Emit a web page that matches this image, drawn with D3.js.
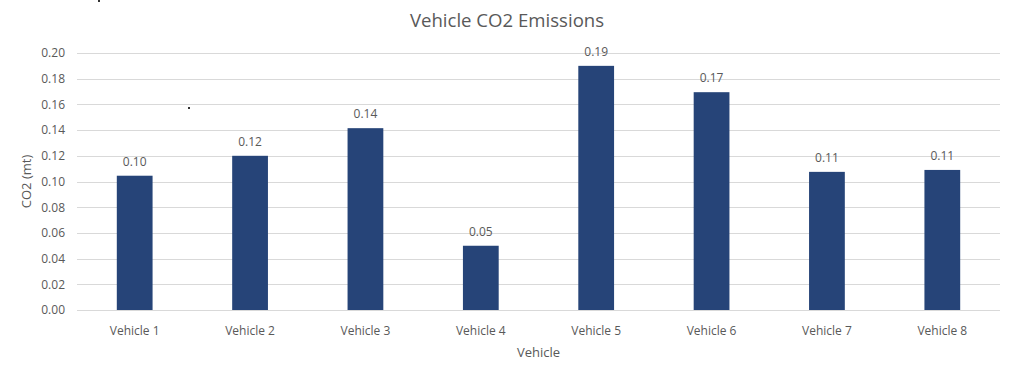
<!DOCTYPE html>
<html lang="en">
<head>
<meta charset="UTF-8">
<title>Vehicle CO2 Emissions</title>
<script src="https://d3js.org/d3.v7.min.js"></script>
<style>
  html, body { margin: 0; padding: 0; background: #fff; }
  text { font-family: 'Open Sans', 'Noto Sans', sans-serif; fill: #595959; }
</style>
</head>
<body>
<div id="chart"></div>
<script>
// data
var vehicles = ["Vehicle 1", "Vehicle 2", "Vehicle 3", "Vehicle 4", "Vehicle 5", "Vehicle 6", "Vehicle 7", "Vehicle 8"];
var co2 = [0.1045, 0.120, 0.1415, 0.050, 0.190, 0.1695, 0.1075, 0.109];
var yTicks = [0, 0.02, 0.04, 0.06, 0.08, 0.10, 0.12, 0.14, 0.16, 0.18, 0.20];

var W = 1015, H = 376;
var plotLeft = 77, plotRight = 1000, plotTop = 53, plotBottom = 310;

var svg = d3.select("#chart").append("svg")
  .attr("width", W)
  .attr("height", H);

var x = d3.scaleBand()
  .domain(vehicles)
  .range([plotLeft, plotRight])
  .paddingInner(0.69)
  .paddingOuter(0.345);

var y = d3.scaleLinear()
  .domain([0, 0.2])
  .range([plotBottom, plotTop]);

// gridlines
svg.append("g")
  .selectAll("line")
  .data(yTicks)
  .enter()
  .append("line")
  .attr("x1", plotLeft)
  .attr("x2", plotRight)
  .attr("y1", function(d) { return Math.round(y(d)) + 0.5; })
  .attr("y2", function(d) { return Math.round(y(d)) + 0.5; })
  .attr("stroke", "#d9d9d9")
  .attr("stroke-width", 1);

// y axis labels
var yAxis = d3.axisLeft(y)
  .tickValues(yTicks)
  .tickFormat(d3.format(".2f"))
  .tickSize(0)
  .tickPadding(12);

var gy = svg.append("g")
  .attr("transform", "translate(" + plotLeft + ",0)")
  .call(yAxis);
gy.select(".domain").remove();
gy.selectAll("text").style("font-size", "12px").attr("fill", "#595959")
  .style("font-family", "'Open Sans', sans-serif");

// x axis labels
var xAxis = d3.axisBottom(x).tickSize(0).tickPadding(16);
var gx = svg.append("g")
  .attr("transform", "translate(0," + plotBottom + ")")
  .call(xAxis);
gx.select(".domain").remove();
gx.selectAll("text").style("font-size", "12px").attr("fill", "#595959")
  .style("font-family", "'Open Sans', sans-serif");

// bars
svg.append("g")
  .selectAll("rect")
  .data(co2)
  .enter()
  .append("rect")
  .attr("x", function(d, i) { return x(vehicles[i]); })
  .attr("y", function(d) { return y(d); })
  .attr("width", x.bandwidth())
  .attr("height", function(d) { return plotBottom - y(d); })
  .attr("fill", "#264478");

// value labels
svg.append("g")
  .selectAll("text")
  .data(co2)
  .enter()
  .append("text")
  .attr("x", function(d, i) { return x(vehicles[i]) + x.bandwidth() / 2; })
  .attr("y", function(d) { return y(d) - 10; })
  .attr("text-anchor", "middle")
  .style("font-size", "12px")
  .text(function(d) { return d3.format(".2f")(d); });

// title
svg.append("text")
  .attr("x", 507)
  .attr("y", 27)
  .attr("text-anchor", "middle")
  .style("font-size", "18.6px")
  .text("Vehicle CO2 Emissions");

// axis titles
svg.append("text")
  .attr("x", (plotLeft + plotRight) / 2)
  .attr("y", 357)
  .attr("text-anchor", "middle")
  .style("font-size", "13px")
  .text("Vehicle");

svg.append("text")
  .attr("transform", "translate(31," + ((plotTop + plotBottom) / 2) + ") rotate(-90)")
  .attr("text-anchor", "middle")
  .style("font-size", "13px")
  .text("CO2 (mt)");

// stray specks from the original screenshot
svg.append("rect").attr("x", 98).attr("y", 0).attr("width", 2).attr("height", 2).attr("fill", "#333");
svg.append("rect").attr("x", 188).attr("y", 107).attr("width", 2).attr("height", 2).attr("fill", "#333");
</script>
</body>
</html>
